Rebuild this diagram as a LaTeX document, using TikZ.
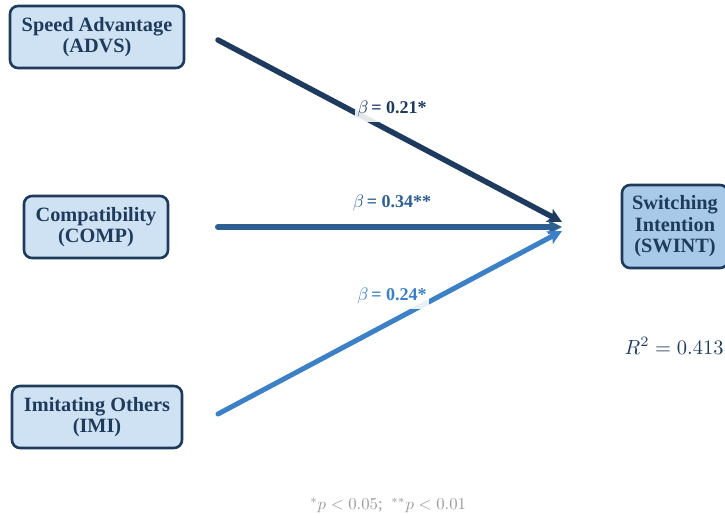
\documentclass[tikz,border=0pt]{standalone}
\usepackage{fontspec}
\setmainfont{Liberation Serif}
\usetikzlibrary{arrows.meta}
\definecolor{navy}{HTML}{1F3B5C}
\definecolor{boxfill}{HTML}{CFE2F3}
\definecolor{outfill}{HTML}{A8C9E8}
\definecolor{cA}{HTML}{1E3A5F}
\definecolor{cB}{HTML}{2D5F91}
\definecolor{cC}{HTML}{3C80C6}
\definecolor{notegray}{HTML}{9A9A9A}
\begin{document}
\begin{tikzpicture}[x=1pt,y=-1pt,
  varbox/.style={draw=navy, line width=2.6pt, rounded corners=8pt, fill=boxfill,
    text=navy, align=center, inner sep=0pt, minimum height=62pt,
    font=\fontsize{20.3}{21.5}\selectfont\bfseries},
  outbox/.style={varbox, fill=outfill, minimum height=83pt, minimum width=106pt},
  path/.style={line cap=round, -{Stealth[length=14pt,width=14pt,inset=3pt]}},
  beta/.style={fill=white, fill opacity=0.88, text opacity=1, inner xsep=1.5pt, inner ysep=2.6pt,
    font=\fontsize{10}{11}\selectfont\bfseries, scale=1.8, transform shape}
]
\useasboundingbox (0,0) rectangle (725,517);
\begin{scope}
\clip (0,0) rectangle (725,517);
\node[varbox, minimum width=174pt] (advs) at (97,37) {Speed Advantage\\(ADVS)};
\node[varbox, minimum width=144pt] (comp) at (96,227) {Compatibility\\(COMP)};
\node[varbox, minimum width=170pt] (imi) at (97,417) {Imitating Others\\(IMI)};
\node[outbox] (swint) at (675,226.5) {Switching\\Intention\\(SWINT)};
\end{scope}

\coordinate (sA) at (218,40);
\coordinate (sB) at (218,227);
\coordinate (sC) at (218,414);
\coordinate (tA) at (562,222);
\coordinate (tB) at (562,227);
\coordinate (tC) at (562,231);

\draw[path, draw=cA, line width=5.5pt] (sA) -- (tA);
\draw[path, draw=cB, line width=6pt] (sB) -- (tB);
\draw[path, draw=cC, line width=5pt] (sC) -- (tC);

\node[beta, text=cA] (lA) at (392,109) {$\beta$\,= 0.21*};
\node[beta, text=cB] (lB) at (392,203) {$\beta$\,= 0.34**};
\node[beta, text=cC] (lC) at (392,296) {$\beta$\,= 0.24*};

\node[text=navy, font=\fontsize{10}{12}\selectfont, anchor=east, inner sep=0.5pt, scale=2.05, transform shape] (r2) at (725,346) {$R^2 = 0.413$};
\node[text=notegray, font=\fontsize{10}{12}\selectfont, scale=1.67, transform shape] (note) at (388,505) {$^*p<0.05$;\ \ $^{**}p<0.01$};
\end{tikzpicture}
\end{document}
